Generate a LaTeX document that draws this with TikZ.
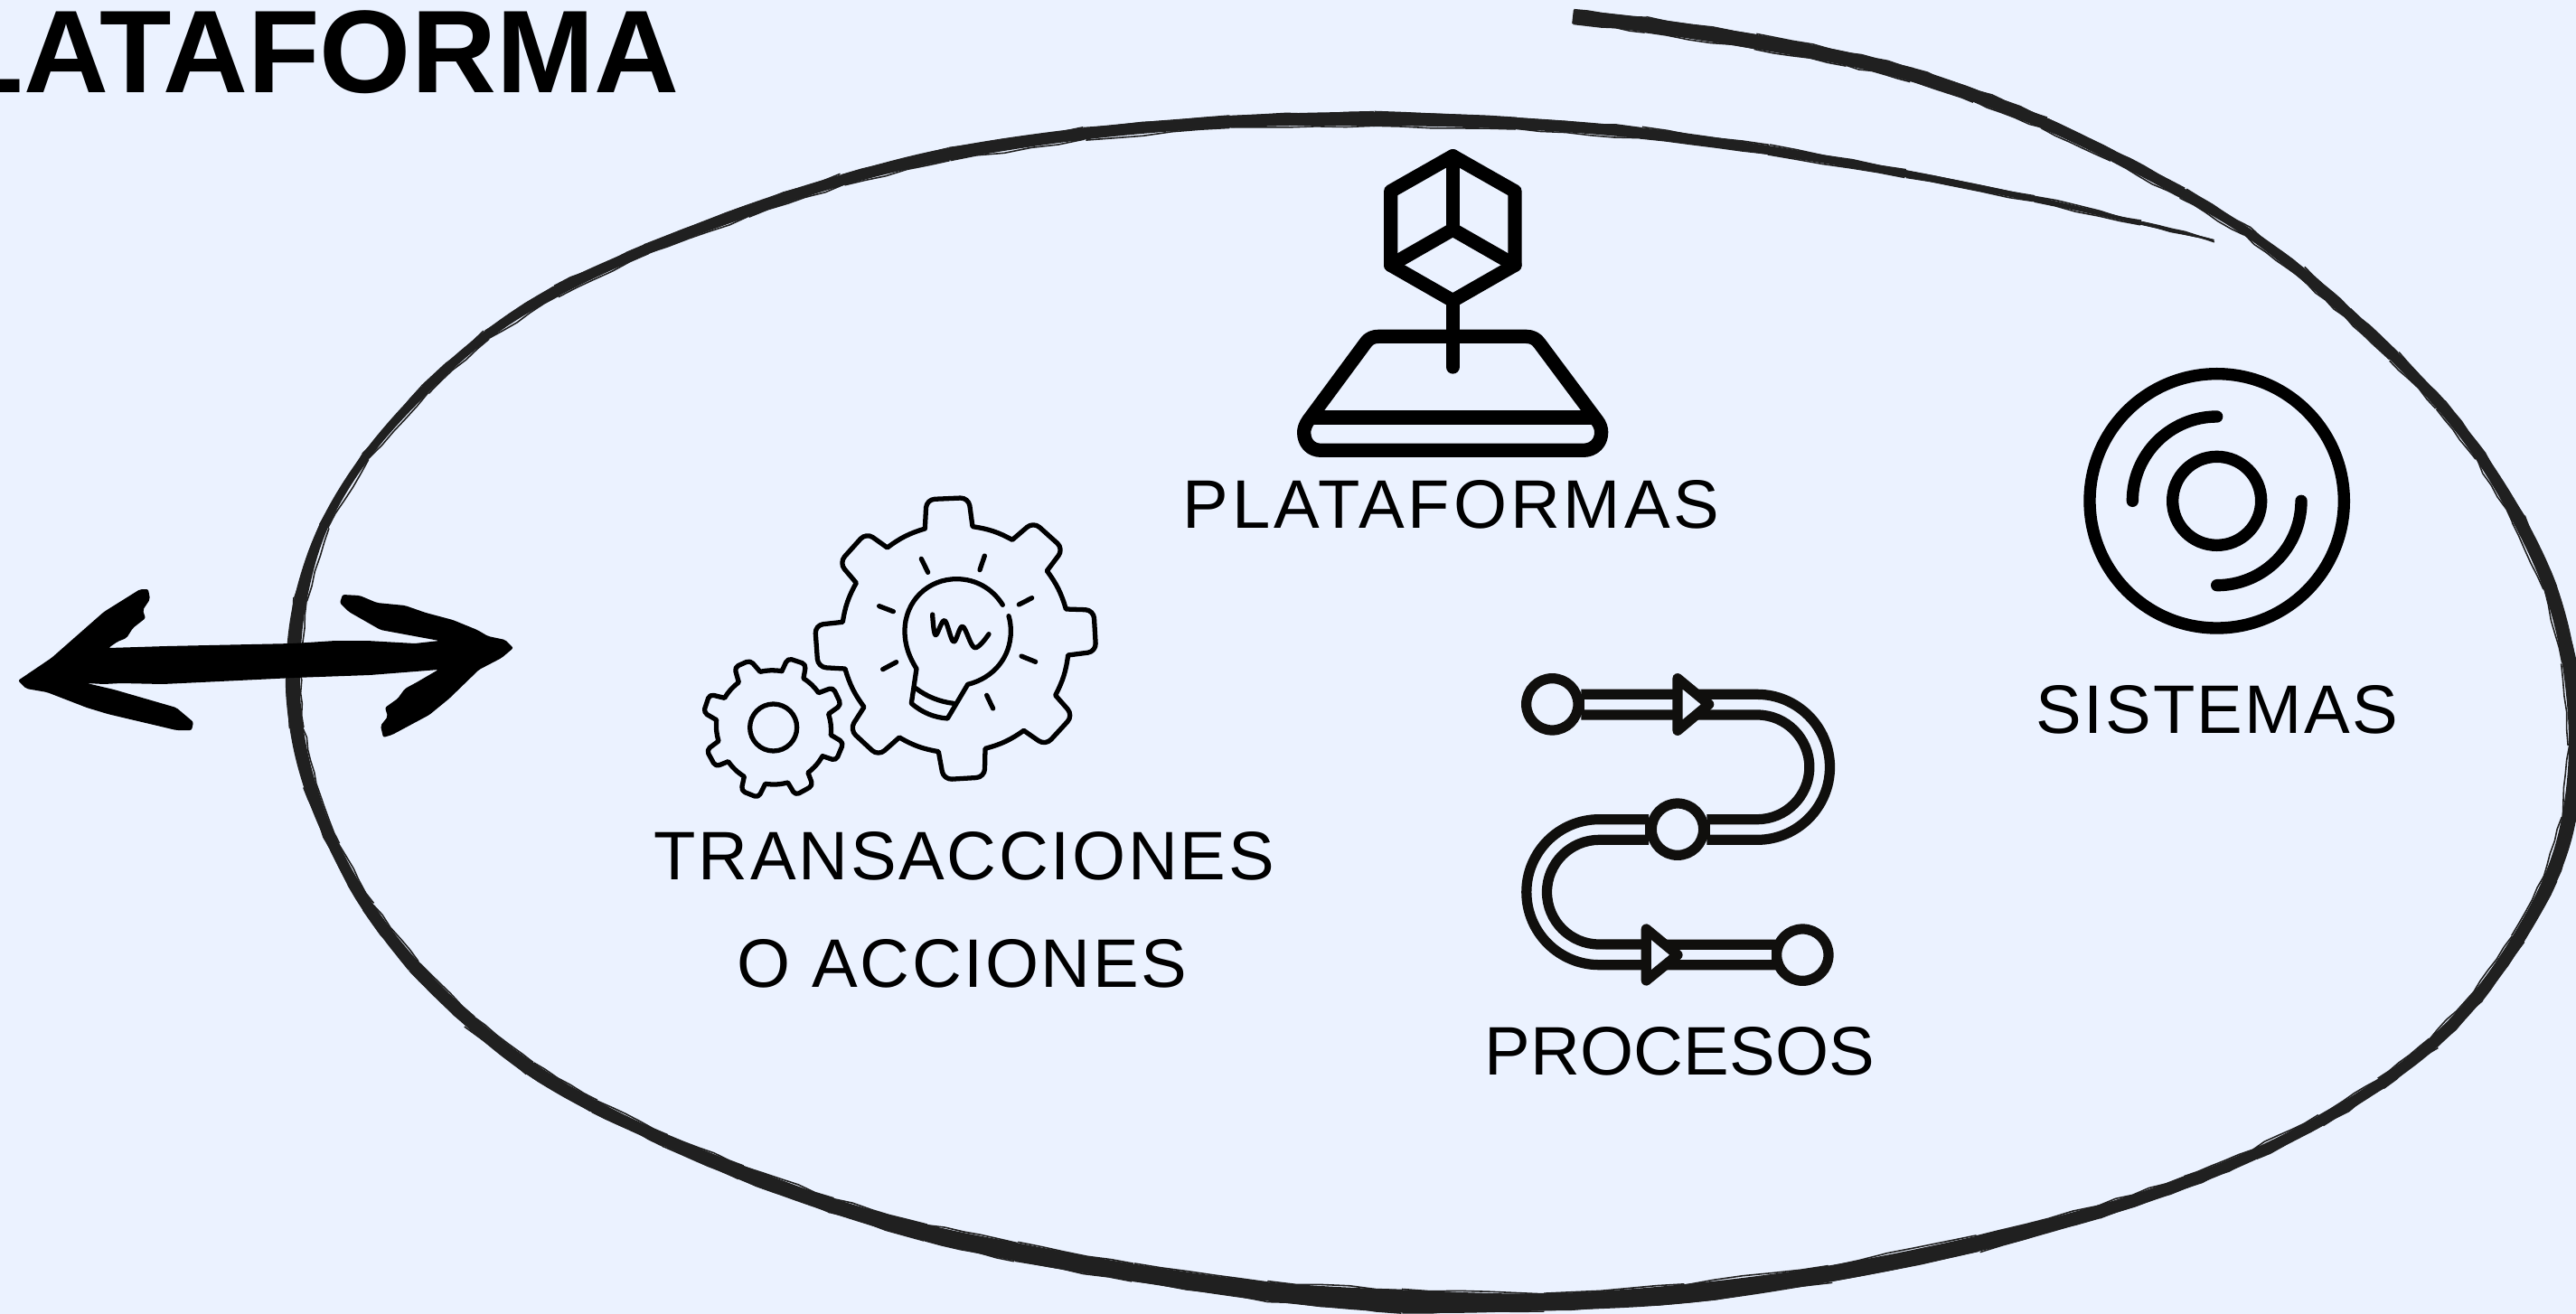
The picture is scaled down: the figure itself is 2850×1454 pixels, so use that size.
\documentclass[tikz,border=0pt]{standalone}
\usepackage{fontspec}
\setmainfont{Liberation Sans}
\usetikzlibrary{calc}
\definecolor{bgc}{HTML}{EBF2FF}
\definecolor{brushc}{HTML}{202020}
\definecolor{procc}{HTML}{100F0D}
\tikzset{
  lbl/.style={anchor=base west,inner sep=0pt,font=\fontsize{21.6}{24}\selectfont,text=black},
  icoP/.style={draw=black,line width=4.35pt,line join=round,line cap=round},
  icoS/.style={draw=black,line width=3.8pt,line cap=round},
  icoG/.style={draw=black,line width=1.5pt,line join=round,line cap=round},
  icoR/.style={draw=procc,line width=3.2pt,line join=round,line cap=round},
  chip/.style={draw=brushc,line width=0.45pt,line join=round},
}
\begin{document}
\begin{tikzpicture}[x=0.01cm,y=-0.01cm]
\pgfmathsetseed{11}
\useasboundingbox (0,0) rectangle (2850,1454);
\fill[bgc] (0,0) rectangle (2850,1454);
\clip (0,0) rectangle (2850,1454);
% hand-drawn ring: variable-width brush
\foreach \cx/\cy/\cw [count=\i] in {
1719/17/15,1803/23/16,1956/47/16,2056/68/15,2109/78/15,2186/107/14,2262/133/13,2339/173/12,2415/213/11,2492/257/10,2545/300/12,2599/347/12,2645/390/12,2706/450/12,2742/500/12,
2789/573/14,2826/652/15,2845/725/15,2852/829/13,2845/914/16,2826/968/15,2789/1041/14,2739/1108/13,2697/1154/13,2635/1200/12,2573/1239/12,2490/1282/12,2424/1306/13,2333/1340/14,2200/1376/17,2018/1413/18,1865/1435/21,1712/1443/19,1544/1442/25,1406/1432/21,1253/1410/19,1100/1380/20,
1043/1371/18,911/1334/16,814/1296/16,739/1263/13,653/1225/14,584/1184/15,521/1134/14,452/1067/14,406/1008/13,366/933/12,340/871/14,325/800/15,322/750/16,327/660/14,354/582/10,398/504/9,470/429/10,541/364/10,604/325/12,711/275/11,836/229/13,925/200/12,1041/168/14,1193/146/13,1371/132/13,1505/129/15,1700/136/13,1803/145/12,1956/163/10,2109/193/8,2262/220/6,2370/248/4,2476/272/2}{
  \coordinate (c\i) at (\cx,\cy);
  \expandafter\xdef\csname bw\i\endcsname{\cw}
  \xdef\bN{\i}
}
\foreach \i in {1,...,\bN}{
  \pgfmathtruncatemacro\ipv{max(\i-1,1)}
  \pgfmathtruncatemacro\inx{min(\i+1,\bN)}
  \coordinate (d\i) at ($0.5*(c\i)+0.25*(c\ipv)+0.25*(c\inx)$);
}
\gdef\lstL{}\gdef\lstR{}
\foreach \i in {1,...,\bN}{
  \pgfmathtruncatemacro\ipv{max(\i-1,1)}
  \pgfmathtruncatemacro\inx{min(\i+1,\bN)}
  \pgfmathsetmacro\hw{\csname bw\i\endcsname*0.005}
  \path let \p1=($(d\inx)-(d\ipv)$),\n1={atan2(\y1,\x1)} in
    coordinate (L\i) at ($(d\i)+(\n1+90:\hw cm)$)
    coordinate (R\i) at ($(d\i)+(\n1-90:\hw cm)$);
  \xdef\lstL{\lstL (L\i)}
  \xdef\lstR{(R\i) \lstR}
}
\edef\brushcmd{\noexpand\fill[brushc] plot[smooth,tension=0.6] coordinates {\lstL} -- plot[smooth,tension=0.6] coordinates {\lstR} -- cycle;}
\brushcmd
% ragged brush edges
\foreach \i in {1,...,69}{
  \pgfmathtruncatemacro\inx{\i+1}
  \foreach \sd in {L,R}{
    \draw[chip] ($(\sd\i)+(rand*1.2,rand*1.2)$)
      -- ($(\sd\i)!0.2!(\sd\inx)+(rand*1.2,rand*1.2)$)
      -- ($(\sd\i)!0.4!(\sd\inx)+(rand*1.2,rand*1.2)$)
      -- ($(\sd\i)!0.6!(\sd\inx)+(rand*1.2,rand*1.2)$)
      -- ($(\sd\i)!0.8!(\sd\inx)+(rand*1.2,rand*1.2)$)
      -- ($(\sd\inx)+(rand*1.2,rand*1.2)$);
  }
}
% double arrow
\fill[black,rounded corners=0.6pt] (20,753) -- (57,728) -- (115,677) -- (155,652) -- (164,652) -- (166,663) -- (158,675) -- (161,684) -- (147,695) -- (140,706) -- (130,710) -- (120,717)
 -- (184,715) -- (325,712) -- (371,709) -- (406,709) -- (459,712) -- (486,709)
 -- (421,697) -- (386,677) -- (376,667) -- (379,658) -- (398,659) -- (417,667) -- (448,670) -- (471,678) -- (501,686) -- (528,697) -- (540,704) -- (559,708) -- (568,717)
 -- (555,728) -- (530,741) -- (497,773) -- (475,791) -- (434,813) -- (424,816) -- (421,803) -- (429,793) -- (426,783) -- (440,773) -- (448,762) -- (461,755) -- (485,741)
 -- (409,747) -- (325,750) -- (222,755) -- (180,757) -- (134,756) -- (115,757) -- (96,756)
 -- (126,763) -- (195,783) -- (214,799) -- (212,808) -- (195,808) -- (174,803) -- (140,795) -- (119,790) -- (96,783) -- (52,766) -- (29,762) -- cycle;
% title
\node[anchor=base east,inner sep=0pt,font=\fontsize{37}{40}\selectfont\bfseries] (title) at (752,102) {LATAFORMA};
% platform icon
\begin{scope}[shift={(1380,130)},scale=0.33333]
\draw[icoP] (682,128) -- (888,245) -- (888,490) -- (682,608) -- (476,490) -- (476,245) -- cycle;
\draw[icoP] (682,128) -- (682,372);
\draw[icoP] (476,490) -- (682,372) -- (888,490);
\draw[icoP] (682,608) -- (682,828);
\draw[icoP] (395,745) .. controls (405,732) and (420,727) .. (436,727) -- (925,727) .. controls (945,727) and (960,735) .. (970,750) -- (1160,1005) .. controls (1172,1020) and (1175,1035) .. (1175,1045) .. controls (1175,1080) and (1150,1105) .. (1115,1105) -- (245,1105) .. controls (210,1105) and (188,1080) .. (188,1045) .. controls (188,1035) and (192,1020) .. (203,1005) -- cycle;
\draw[icoP,line cap=butt] (205,996) -- (1155,996);
\end{scope}
% system icon
\begin{scope}[shift={(2280,380)},scale=0.33333]
\draw[icoS] (518,523) circle[radius=422];
\draw[icoS] (518,523) circle[radius=147];
\draw[icoS] (238,523) arc[start angle=180,end angle=270,radius=280];
\draw[icoS] (798,523) arc[start angle=0,end angle=90,radius=280];
\end{scope}
% gears
\begin{scope}[shift={(740,520)},scale=0.33333]
\draw[icoG] (850,195) [rounded corners=2.6pt] -- (855,98) -- (995,92) [sharp corners] -- (1008,188) to[bend left=10]
 (1140,232) [rounded corners=2.6pt] -- (1210,172) -- (1310,262) [sharp corners] -- (1255,335) to[bend left=10]
 (1318,462) [rounded corners=2.6pt] -- (1410,465) -- (1418,603) [sharp corners] -- (1325,615) to[bend left=10]
 (1283,748) [rounded corners=2.6pt] -- (1342,815) -- (1250,915) [sharp corners] -- (1178,865) to[bend left=10]
 (1050,925) [rounded corners=2.6pt] -- (1048,1020) -- (912,1028) [sharp corners] -- (895,935) to[bend left=10]
 (765,888) [rounded corners=2.6pt] -- (695,950) -- (600,862) [sharp corners] -- (648,787) to[bend left=10]
 (585,660) [rounded corners=2.6pt] -- (495,655) -- (485,515) [sharp corners] -- (577,505) to[bend left=10]
 (622,375) [rounded corners=2.6pt] -- (565,308) -- (655,208) [sharp corners] -- (725,258) to[bend left=10] (850,195);
\draw[icoG] (375,668) [rounded corners=1.3pt] -- (395,625) -- (455,645) [sharp corners] -- (447,692) to[bend left=10]
 (497,740) [rounded corners=1.3pt] -- (545,722) -- (572,780) [sharp corners] -- (530,810) to[bend left=10]
 (538,880) [rounded corners=1.3pt] -- (580,905) -- (555,965) [sharp corners] -- (510,950) to[bend left=10]
 (462,1005) [rounded corners=1.3pt] -- (478,1048) -- (420,1080) [sharp corners] -- (395,1038) to[bend left=10]
 (320,1042) [rounded corners=1.3pt] -- (297,1088) -- (240,1065) [sharp corners] -- (250,1018) to[bend left=10]
 (197,968) [rounded corners=1.3pt] -- (155,985) -- (125,930) [sharp corners] -- (165,900) to[bend left=10]
 (158,830) [rounded corners=1.3pt] -- (115,805) -- (135,745) [sharp corners] -- (185,757) to[bend left=10]
 (232,705) [rounded corners=1.3pt] -- (218,655) -- (270,632) [sharp corners] -- (303,670) to[bend left=10] (375,668);
\draw[icoG] (347,855) circle[radius=78];
\draw[icoG] (1108,448) .. controls (1075,395) and (1020,362) .. (955,362) .. controls (860,362) and (783,435) .. (783,535) .. controls (783,585) and (800,625) .. (822,660) -- (805,775) .. controls (840,805) and (880,822) .. (925,825) -- (992,712) .. controls (1080,690) and (1135,620) .. (1135,535) .. controls (1135,520) and (1133,500) .. (1128,485);
\draw[icoG] (820,725) .. controls (855,752) and (900,770) .. (945,775);
\foreach \ax/\ay/\bx/\by in {838/295/860/340,1048/285/1032/332,1205/425/1162/447,1170/618/1217/637,1055/748/1076/792,755/638/710/662,745/470/698/452}{\draw[icoG] (\ax,\ay) -- (\bx,\by);}
\draw[icoG] plot[smooth,tension=0.6] coordinates {(875,480) (885,548) (915,500) (945,570) (975,520) (1015,590) (1062,545)};
\end{scope}
% process icon
\begin{scope}[shift={(1640,720)},scale=0.33333]
\draw[icoR,line cap=butt] (328,145) -- (912,145) arc[start angle=-90,end angle=90,radius=241.5] -- (745,628);
\draw[icoR,line cap=butt] (328,213) -- (912,213) arc[start angle=-90,end angle=90,radius=173.5] -- (745,560);
\draw[icoR,line cap=butt] (552,560) -- (388,560) arc[start angle=270,end angle=90,radius=241.5] -- (975,1043);
\draw[icoR,line cap=butt] (552,628) -- (388,628) arc[start angle=270,end angle=90,radius=173.5] -- (975,976);
\foreach \ax/\ay/\bx/\by in {328/145/328/213,745/560/745/628,552/560/552/628,970/976/970/1043}{\draw[icoR,line cap=butt,line width=2pt] (\ax,\ay) -- (\bx,\by);}
\foreach \ax/\ay in {232/178,648/593,1063/1010}{\draw[icoR,fill=bgc] (\ax,\ay) circle[radius=86];}
\draw[icoR,fill=bgc] (648,92) -- (752,178) -- (648,265) -- cycle;
\draw[icoR,fill=bgc] (544,924) -- (648,1010) -- (544,1095) -- cycle;
\end{scope}
% labels
\node[lbl] (plat) at (1308,584) {\addfontfeature{LetterSpace=5.2}PLATAFORMAS};
\node[lbl] (sist) at (2252,811) {\addfontfeature{LetterSpace=3}SISTEMAS};
\node[lbl] (tran) at (723,973) {\addfontfeature{LetterSpace=3.5}TRANSACCIONES};
\node[lbl] (oacc) at (815,1092) {\addfontfeature{LetterSpace=3.4}O ACCIONES};
\node[lbl] (proc) at (1642,1189) {\addfontfeature{LetterSpace=0.2}PROCESOS};
\end{tikzpicture}
\end{document}
